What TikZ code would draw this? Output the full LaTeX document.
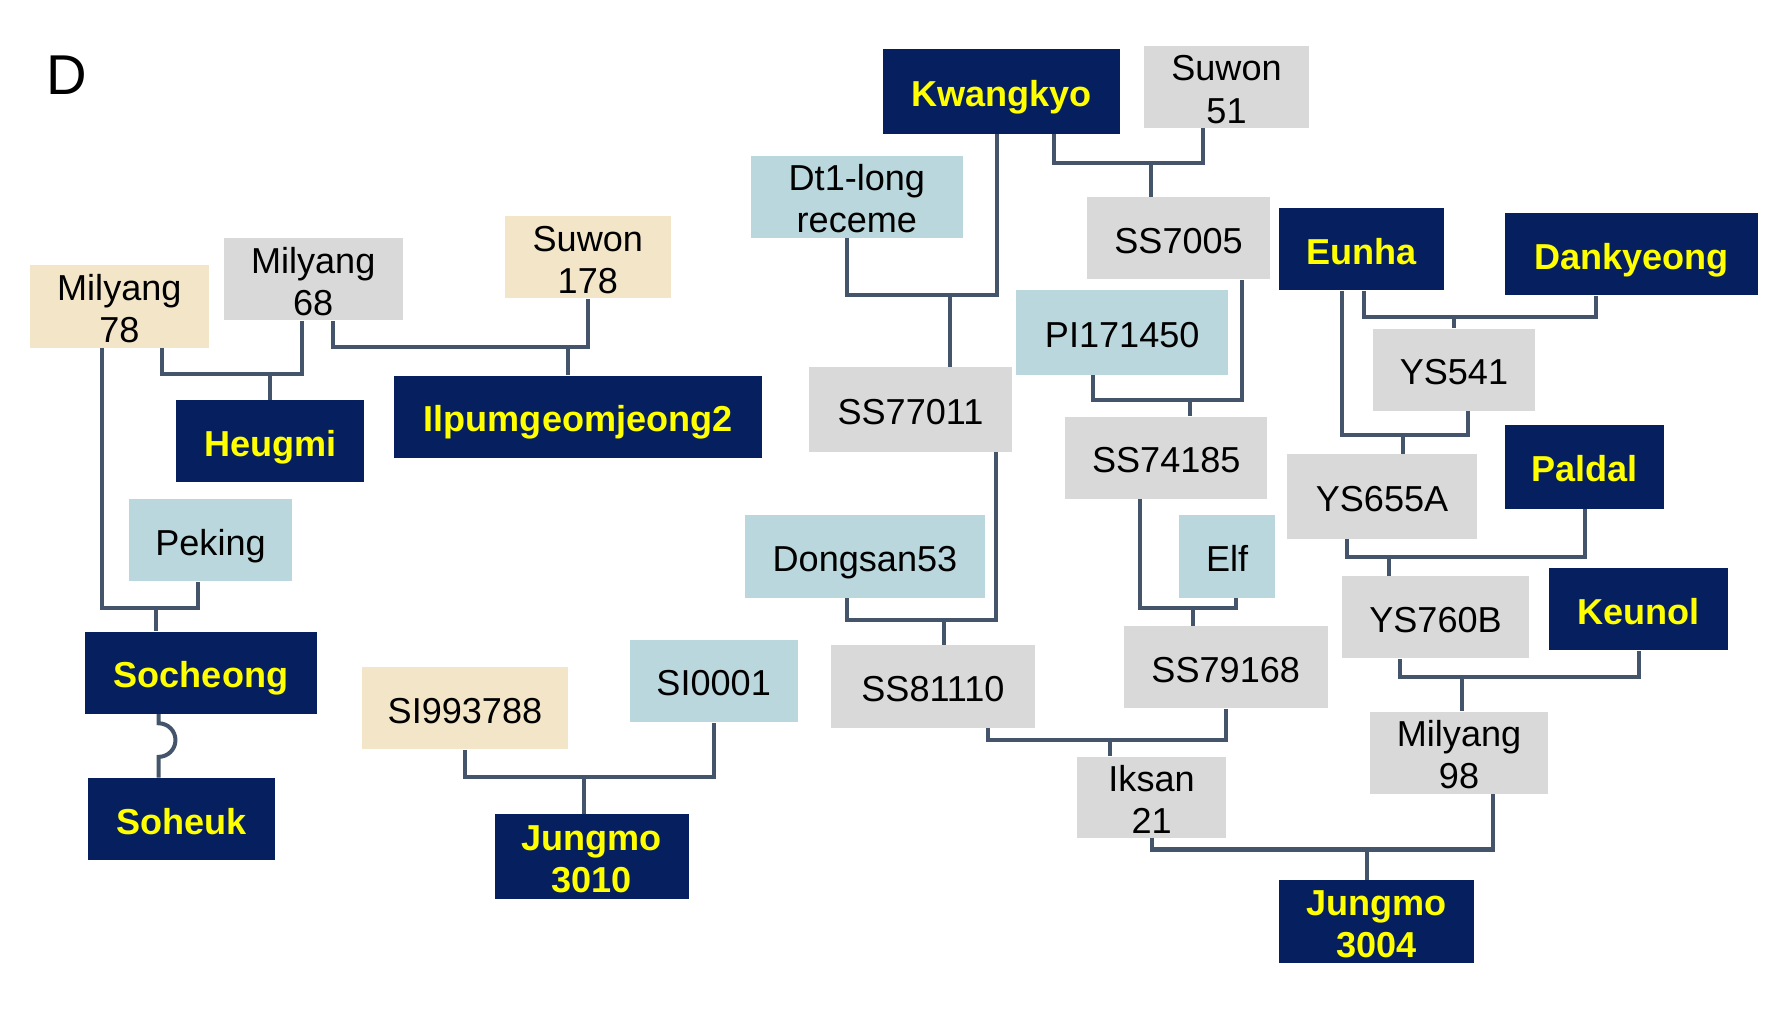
\documentclass[tikz,border=0pt]{standalone}
\usepackage{fontspec}
\setmainfont{Liberation Sans}
\usetikzlibrary{calc}
\usepackage{xcolor}
\definecolor{navy}{HTML}{061F5E}
\definecolor{cultyellow}{HTML}{FFFF00}
\definecolor{linegray}{HTML}{D9D9D9}
\definecolor{donorblue}{HTML}{B9D7DC}
\definecolor{tan}{HTML}{F2E5C8}
\definecolor{slate}{HTML}{44546A}

\begin{document}
\begin{tikzpicture}[
  x=0.02cm, y=-0.02cm,
  font=\fontsize{18}{21}\selectfont,
  box/.style={minimum height=1.44cm, inner sep=0pt, align=center, text height=16pt, text depth=1.2pt},
  pair/.style={text height=37pt, text depth=1pt},
  cultivar/.style={box, fill=navy, text=cultyellow, font=\fontsize{18}{21}\selectfont\bfseries},
  breeding/.style={box, fill=linegray},
  donor/.style={box, fill=donorblue},
  landrace/.style={box, fill=tan},
  link/.style={draw=slate, line width=2pt}
]
\useasboundingbox (0,0) rectangle (1568,885);

\node[font=\fontsize{28}{32}\selectfont] (panel) at (58.6,66) {D};

\node[cultivar, minimum width=4.16cm, minimum height=1.49cm] (kwangkyo) at (878,80) {Kwangkyo};
\node[breeding, pair, minimum width=2.90cm] (suwon51) at (1075,76.2) {Suwon\\51};
\node[donor, pair, minimum width=3.72cm] (dt1) at (751,172.5) {Dt1-long\\receme};
\node[breeding, minimum width=3.20cm] (ss7005) at (1033,208.8) {SS7005};
\node[cultivar, minimum width=2.90cm] (eunha) at (1193.2,218.5) {Eunha};
\node[cultivar, minimum width=4.44cm] (dankyeong) at (1430,222.8) {Dankyeong};
\node[landrace, pair, minimum width=3.14cm] (m78) at (104.6,268.6) {Milyang\\78};
\node[breeding, pair, minimum width=3.14cm] (m68) at (274.5,244.8) {Milyang\\68};
\node[landrace, pair, minimum width=2.90cm] (s178) at (515.2,225.3) {Suwon\\178};
\node[donor, minimum width=3.72cm, minimum height=1.48cm] (pi171450) at (983.6,291.6) {PI171450};
\node[breeding, minimum width=2.84cm] (ys541) at (1274.3,324.2) {YS541};
\node[cultivar, minimum width=3.29cm] (heugmi) at (236.8,386.7) {Heugmi};
\node[cultivar, minimum width=6.44cm] (ilpum) at (506.7,365.2) {Ilpumgeomjeong2};
\node[breeding, minimum width=3.56cm, minimum height=1.48cm] (ss77011) at (798,359) {SS77011};
\node[breeding, minimum width=3.54cm] (ss74185) at (1022.2,401.2) {SS74185};
\node[breeding, minimum width=3.33cm, minimum height=1.48cm] (ys655a) at (1211.3,435) {YS655A};
\node[cultivar, minimum width=2.80cm, minimum height=1.46cm] (paldal) at (1388.8,409.2) {Paldal};
\node[donor, minimum width=2.86cm] (peking) at (184.5,473.6) {Peking};
\node[donor, minimum width=4.20cm] (dongsan) at (758.1,487.8) {Dongsan53};
\node[donor, minimum width=1.69cm] (elf) at (1075.6,487.8) {Elf};
\node[breeding, minimum width=3.28cm] (ys760b) at (1258.2,541.1) {YS760B};
\node[cultivar, minimum width=3.13cm] (keunol) at (1436.3,534) {Keunol};
\node[cultivar, minimum width=4.06cm] (socheong) at (176.1,589.6) {Socheong};
\node[landrace, minimum width=3.62cm] (si993788) at (407.5,620.9) {SI993788};
\node[donor, minimum width=2.94cm] (si0001) at (625.5,597) {SI0001};
\node[breeding, minimum width=3.57cm] (ss81110) at (817.7,601.7) {SS81110};
\node[breeding, minimum width=3.57cm] (ss79168) at (1074.3,584.8) {SS79168};
\node[breeding, pair, minimum width=3.13cm] (m98) at (1278.8,659.6) {Milyang\\98};
\node[breeding, pair, minimum width=2.61cm, minimum height=1.42cm] (iksan) at (1009.3,698.6) {Iksan\\21};
\node[cultivar, minimum width=3.29cm] (soheuk) at (159.2,718) {Soheuk};
\node[cultivar, pair, minimum width=3.40cm, minimum height=1.49cm] (j3010) at (518.7,750.7) {Jungmo\\3010};
\node[cultivar, pair, minimum width=3.42cm] (j3004) at (1206.4,807.6) {Jungmo\\3004};

% crosses: parent stubs meet at a junction above the offspring
\coordinate (jheugmi) at ($(heugmi.north)+(0,-22.4)$);
\draw[link] ($(m78.south)+(37.8,0)$) |- (jheugmi) -| ($(m68.south)+(-9.4,0)$);
\draw[link] (jheugmi) -- (heugmi.north);

\coordinate (jilpum) at ($(ilpum.north)+(-8.6,-24.7)$);
\draw[link] ($(m68.south)+(17.3,0)$) |- (jilpum) -| (s178.south);
\draw[link] (jilpum) -- (jilpum |- ilpum.north);

\coordinate (jsocheong) at ($(socheong.north)+(-39.3,-20.2)$);
\draw[link] ($(m78.south)+(-15.6,0)$) |- (jsocheong) -| ($(peking.south)+(-10.9,0)$);
\draw[link] (jsocheong) -- (jsocheong |- socheong.north);

\coordinate (hop) at ($(socheong.south)+(-37,0)$);
\draw[link] (hop) -- ++(0,8) arc[start angle=-90, end angle=90, radius=14.7] -- (hop |- soheuk.north);

\coordinate (j3010top) at ($(j3010.north)+(-6.5,-32)$);
\draw[link] (si993788.south) |- (j3010top) -| (si0001.south);
\draw[link] (j3010top) -- (j3010top |- j3010.north);

\coordinate (jss77011) at ($(ss77011.north)+(34.3,-63.1)$);
\draw[link] ($(dt1.south)+(-8.9,0)$) |- (jss77011) -| ($(kwangkyo.south)+(-4.1,0)$);
\draw[link] (jss77011) -- (jss77011 |- ss77011.north);

\coordinate (jss7005) at ($(ss7005.north)+(-24.5,-30)$);
\draw[link] ($(kwangkyo.south)+(45.7,0)$) |- (jss7005) -| ($(suwon51.south)+(-20.7,0)$);
\draw[link] (jss7005) -- (jss7005 |- ss7005.north);

\coordinate (jss74185) at ($(ss74185.north)+(20.8,-14.5)$);
\draw[link] ($(pi171450.south)+(-25.8,0)$) |- (jss74185) -| ($(ss7005.south)+(55.8,0)$);
\draw[link] (jss74185) -- (jss74185 |- ss74185.north);

\coordinate (jys541) at ($(ys541.north)+(0,-9.9)$);
\draw[link] ($(eunha.south)+(2.3,0)$) |- (jys541) -| ($(dankyeong.south)+(-31.3,0)$);
\draw[link] (jys541) -- (ys541.north);

\coordinate (jys655a) at ($(ys655a.north)+(18.3,-16.8)$);
\draw[link] ($(eunha.south)+(-17,0)$) |- (jys655a) -| ($(ys541.south)+(12.7,0)$);
\draw[link] (jys655a) -- (jys655a |- ys655a.north);

\coordinate (jys760b) at ($(ys760b.north)+(-40.8,-16.3)$);
\draw[link] ($(ys655a.south)+(-31,0)$) |- (jys760b) -| (paldal.south);
\draw[link] (jys760b) -- (jys760b |- ys760b.north);

\coordinate (jm98) at ($(m98.north)+(3,-29.7)$);
\draw[link] ($(ys760b.south)+(-31.2,0)$) |- (jm98) -| (keunol.south);
\draw[link] (jm98) -- (jm98 |- m98.north);

\coordinate (jss81110) at ($(ss81110.north)+(9.5,-22.2)$);
\draw[link] ($(dongsan.south)+(-16,0)$) |- (jss81110) -| ($(ss77011.south)+(74.8,0)$);
\draw[link] (jss81110) -- (jss81110 |- ss81110.north);

\coordinate (jss79168) at ($(ss79168.north)+(-28.7,-15.7)$);
\draw[link] ($(ss74185.south)+(-23.3,0)$) |- (jss79168) -| ($(elf.south)+(8.1,0)$);
\draw[link] (jss79168) -- (jss79168 |- ss79168.north);

\coordinate (jiksan) at ($(iksan.north)+(-36.3,-14.2)$);
\draw[link] ($(ss81110.south)+(48.6,0)$) |- (jiksan) -| (ss79168.south);
\draw[link] (jiksan) -- (jiksan |- iksan.north);

\coordinate (j3004top) at ($(j3004.north)+(-8.3,-26.7)$);
\draw[link] (iksan.south) |- (j3004top) -| ($(m98.south)+(30,0)$);
\draw[link] (j3004top) -- (j3004top |- j3004.north);

\end{tikzpicture}
\end{document}
